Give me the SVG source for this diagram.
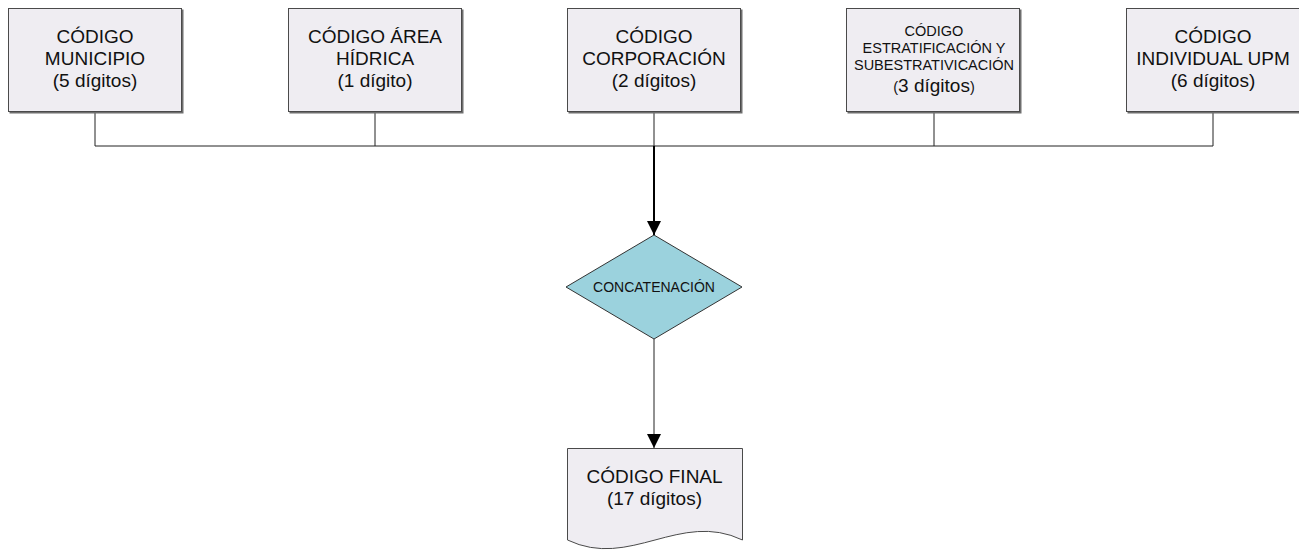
<svg xmlns="http://www.w3.org/2000/svg" width="1299" height="550" viewBox="0 0 1299 550">
<style>
  .box { fill: #EFEDF2; stroke: #4a4a4a; stroke-width: 1; }
  .shadow { fill: #6e6e6e; }
  .dia { fill: #9BD2DD; stroke: #333; stroke-width: 1; }
  .t { font-family: "Liberation Sans", Arial, sans-serif; font-size: 19px; fill: #111; text-anchor: middle; }
  .s { font-family: "Liberation Sans", Arial, sans-serif; font-size: 14.5px; fill: #111; text-anchor: middle; }
  .ln { fill: none; stroke: #222; stroke-width: 1; }
  .thick { fill: none; stroke: #000; stroke-width: 2; }
</style>
<defs>
  <marker id="ah" viewBox="0 0 14 14" refX="14" refY="7" markerWidth="14" markerHeight="14" markerUnits="userSpaceOnUse" orient="auto">
    <path d="M0,0 L14,7 L0,14 Z" fill="#000"/>
  </marker>
</defs>

<g id="connectors">
  <path class="ln" d="M95,112 V146 H1213 V112"/>
  <path class="ln" d="M375,112 V146"/>
  <path class="ln" d="M654,112 V146"/>
  <path class="ln" d="M934,112 V146"/>
  <path class="thick" d="M654,146 V235" marker-end="url(#ah)"/>
  <path class="ln" d="M654,339 V448" marker-end="url(#ah)"/>
</g>

<g id="n1">
  <rect class="shadow" x="9.5" y="9.5" width="174" height="104"/>
  <rect class="box" x="8.5" y="8.5" width="173" height="103"/>
  <text class="t" x="95" y="43">CÓDIGO</text>
  <text class="t" x="95" y="65">MUNICIPIO</text>
  <text class="t" x="95" y="87">(5 dígitos)</text>
</g>

<g id="n2">
  <rect class="shadow" x="289.5" y="9.5" width="174" height="104"/>
  <rect class="box" x="288.5" y="8.5" width="173" height="103"/>
  <text class="t" x="375" y="43">CÓDIGO ÁREA</text>
  <text class="t" x="375" y="65">HÍDRICA</text>
  <text class="t" x="375" y="87">(1 dígito)</text>
</g>

<g id="n3">
  <rect class="shadow" x="568.5" y="9.5" width="174" height="104"/>
  <rect class="box" x="567.5" y="8.5" width="173" height="103"/>
  <text class="t" x="654" y="43">CÓDIGO</text>
  <text class="t" x="654" y="65">CORPORACIÓN</text>
  <text class="t" x="654" y="87">(2 dígitos)</text>
</g>

<g id="n4">
  <rect class="shadow" x="847.5" y="9.5" width="174" height="104"/>
  <rect class="box" x="846.5" y="8.5" width="173" height="103"/>
  <text class="s" x="934" y="36">CÓDIGO</text>
  <text class="s" x="934" y="53">ESTRATIFICACIÓN Y</text>
  <text class="s" x="934" y="70">SUBESTRATIVICACIÓN</text>
  <text class="t" x="934" y="92"><tspan font-size="14.5px">(</tspan>3 dígitos<tspan font-size="14.5px">)</tspan></text>
</g>

<g id="n5">
  <rect class="shadow" x="1127.5" y="9.5" width="174" height="104"/>
  <rect class="box" x="1126.5" y="8.5" width="173" height="103"/>
  <text class="t" x="1213" y="43">CÓDIGO</text>
  <text class="t" x="1213" y="65">INDIVIDUAL UPM</text>
  <text class="t" x="1213" y="87">(6 dígitos)</text>
</g>

<g id="concat">
  <polygon class="dia" points="654,235 742,287 654,339 566,287"/>
  <text class="s" x="654" y="292" style="font-size:14px">CONCATENACIÓN</text>
</g>

<g id="final">
  <path class="box" d="M567.5,448.5 H742.5 V540 C680,510 630,570 567.5,540 Z"/>
  <text class="t" x="654.5" y="483">CÓDIGO FINAL</text>
  <text class="t" x="654.5" y="505">(17 dígitos)</text>
</g>
</svg>
